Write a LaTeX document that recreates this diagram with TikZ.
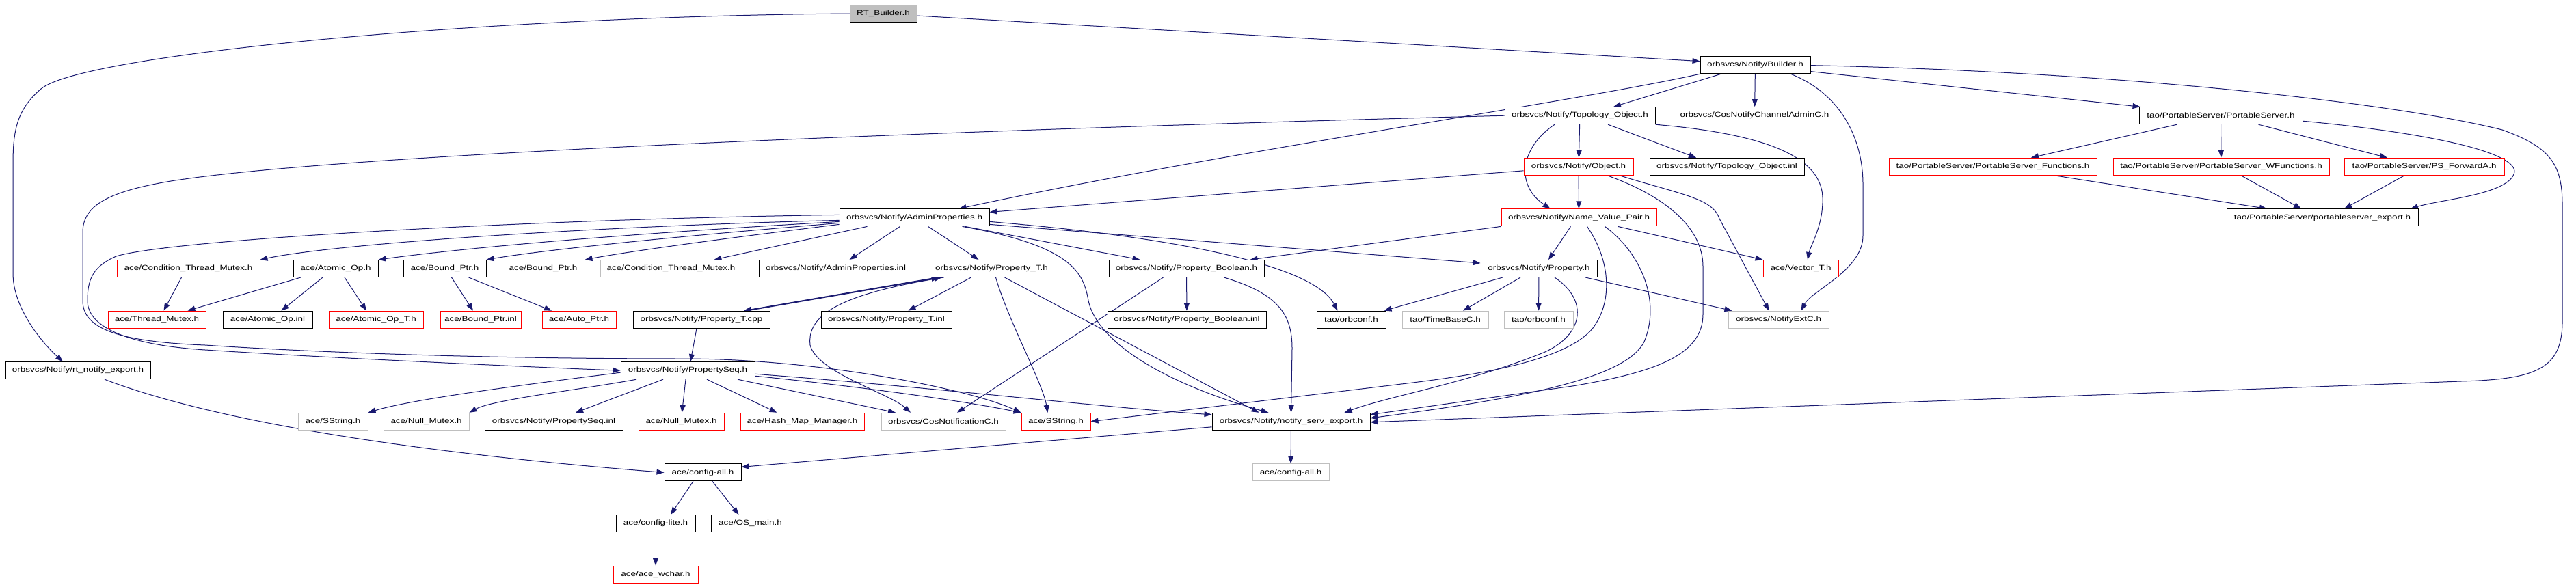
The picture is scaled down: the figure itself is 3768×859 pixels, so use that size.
\documentclass[tikz,border=0pt]{standalone}
\usepackage{fontspec}
\newfontfamily\nf[FakeStretch=1.27]{Liberation Sans}
\usetikzlibrary{arrows.meta,backgrounds}
\definecolor{edgec}{HTML}{191970}
\definecolor{grayb}{HTML}{BFBFBF}
\definecolor{redb}{HTML}{FF0000}
\tikzset{
  nb/.style={draw=black, fill=white, line width=1pt, minimum height=25pt, inner sep=0pt, text=black, font={\nf\fontsize{10.6}{12}\selectfont}},
  nr/.style={nb, draw=redb},
  ng/.style={nb, draw=grayb},
  nroot/.style={nb, fill=grayb},
  edge/.style={draw=edgec, line width=1pt, -{Triangle[length=11pt,width=8pt]}}
}
\begin{document}
\begin{tikzpicture}[x=1pt,y=-1pt]
\useasboundingbox (0,0) rectangle (3768,859);
% row 0
\node[nroot, minimum width=98pt] (rt) at (1292,20) {RT\_Builder.h};
% row 1
\node[nb, minimum width=161pt] (bld) at (2567.5,94.6) {orbsvcs/Notify/Builder.h};
% row 2
\node[nb, minimum width=220pt] (topo) at (2311,169.2) {orbsvcs/Notify/Topology\_Object.h};
\node[ng, minimum width=237pt] (cnca) at (2566.5,169.2) {orbsvcs/CosNotifyChannelAdminC.h};
\node[nb, minimum width=239pt] (ps) at (3248.5,169.2) {tao/PortableServer/PortableServer.h};
% row 3
\node[nr, minimum width=160pt] (obj) at (2309,243.8) {orbsvcs/Notify/Object.h};
\node[nb, minimum width=226pt] (toinl) at (2526,243.8) {orbsvcs/Notify/Topology\_Object.inl};
\node[nr, minimum width=304pt] (psf) at (2915,243.8) {tao/PortableServer/PortableServer\_Functions.h};
\node[nr, minimum width=316pt] (psw) at (3249,243.8) {tao/PortableServer/PortableServer\_WFunctions.h};
\node[nr, minimum width=234pt] (psfa) at (3546,243.8) {tao/PortableServer/PS\_ForwardA.h};
% row 4
\node[nb, minimum width=219pt] (adm) at (1337.5,318.4) {orbsvcs/Notify/AdminProperties.h};
\node[nr, minimum width=227pt] (nvp) at (2309.5,318.4) {orbsvcs/Notify/Name\_Value\_Pair.h};
\node[nb, minimum width=280pt] (pse) at (3397,318.4) {tao/PortableServer/portableserver\_export.h};
% row 5
\node[nr, minimum width=209pt] (ctmr) at (275.5,393) {ace/Condition\_Thread\_Mutex.h};
\node[nb, minimum width=124pt] (aop) at (491,393) {ace/Atomic\_Op.h};
\node[nb, minimum width=121pt] (bp) at (650.5,393) {ace/Bound\_Ptr.h};
\node[ng, minimum width=121pt] (bpg) at (794.5,393) {ace/Bound\_Ptr.h};
\node[ng, minimum width=207pt] (ctmg) at (981.5,393) {ace/Condition\_Thread\_Mutex.h};
\node[nb, minimum width=225pt] (adminl) at (1222.5,393) {orbsvcs/Notify/AdminProperties.inl};
\node[nb, minimum width=187pt] (pth) at (1450.5,393) {orbsvcs/Notify/Property\_T.h};
\node[nb, minimum width=227pt] (pb) at (1735.5,393) {orbsvcs/Notify/Property\_Boolean.h};
\node[nb, minimum width=170pt] (prop) at (2251,393) {orbsvcs/Notify/Property.h};
\node[nr, minimum width=110pt] (vec) at (2634,393) {ace/Vector\_T.h};
% row 6
\node[nr, minimum width=143pt] (tm) at (229.5,467.6) {ace/Thread\_Mutex.h};
\node[nb, minimum width=131pt] (aopinl) at (391.5,467.6) {ace/Atomic\_Op.inl};
\node[nr, minimum width=138pt] (aopt) at (550,467.6) {ace/Atomic\_Op\_T.h};
\node[nr, minimum width=118pt] (bpi) at (703,467.6) {ace/Bound\_Ptr.inl};
\node[nr, minimum width=108pt] (ap) at (847,467.6) {ace/Auto\_Ptr.h};
\node[nb, minimum width=200pt] (ptcpp) at (1026,467.6) {orbsvcs/Notify/Property\_T.cpp};
\node[nb, minimum width=191pt] (ptinl) at (1296.5,467.6) {orbsvcs/Notify/Property\_T.inl};
\node[nb, minimum width=232pt] (pbinl) at (1736,467.6) {orbsvcs/Notify/Property\_Boolean.inl};
\node[nb, minimum width=101pt] (orbb) at (1976.5,467.6) {tao/orbconf.h};
\node[ng, minimum width=126pt] (tbc) at (2114,467.6) {tao/TimeBaseC.h};
\node[ng, minimum width=101pt] (orbg) at (2250.5,467.6) {tao/orbconf.h};
\node[ng, minimum width=147pt] (nextc) at (2601.5,467.6) {orbsvcs/NotifyExtC.h};
% row 7
\node[nb, minimum width=212pt] (rtn) at (114,542.2) {orbsvcs/Notify/rt\_notify\_export.h};
\node[nb, minimum width=196pt] (pseq) at (1006,542.2) {orbsvcs/Notify/PropertySeq.h};
% row 8
\node[ng, minimum width=102pt] (ssg) at (487,616.8) {ace/SString.h};
\node[ng, minimum width=125pt] (nmg) at (623.5,616.8) {ace/Null\_Mutex.h};
\node[nb, minimum width=202pt] (psinl) at (810,616.8) {orbsvcs/Notify/PropertySeq.inl};
\node[nr, minimum width=125pt] (nmr) at (996.5,616.8) {ace/Null\_Mutex.h};
\node[nr, minimum width=181pt] (hm) at (1173.5,616.8) {ace/Hash\_Map\_Manager.h};
\node[ng, minimum width=182pt] (cosn) at (1380,616.8) {orbsvcs/CosNotificationC.h};
\node[nr, minimum width=101pt] (ssr) at (1544.5,616.8) {ace/SString.h};
\node[nb, minimum width=231pt] (nse) at (1888.5,616.8) {orbsvcs/Notify/notify\_serv\_export.h};
% row 9
\node[nb, minimum width=112pt] (cfa) at (1028,691.4) {ace/config-all.h};
\node[ng, minimum width=112pt] (cfag) at (1888,691.4) {ace/config-all.h};
% row 10
\node[nb, minimum width=116pt] (cfl) at (959,766) {ace/config-lite.h};
\node[nb, minimum width=115pt] (osm) at (1097.5,766) {ace/OS\_main.h};
% row 11
\node[nr, minimum width=124pt] (wch) at (959,840.6) {ace/ace\_wchar.h};

\begin{pgfonlayer}{background}
\fill[white] (0,0) rectangle (3768,859);
% RT_Builder
\draw[edge] ([yshift=-3pt]rt.east) -- ([yshift=5pt]bld.west);
\draw[edge] (rt.west) .. controls (700,24) and (120,80) .. (60,130) .. controls (25,160) and (19,190) .. (19,240) -- (19,400) .. controls (19,450) and (60,500) .. ([xshift=-22pt]rtn.north);
% Builder
\draw[edge] ([xshift=3pt]bld.south west) .. controls (2300,150) and (1800,220) .. ([xshift=65pt]adm.north);
\draw[edge] ([xshift=-48pt]bld.south) -- ([xshift=49pt]topo.north);
\draw[edge] (bld) -- (cnca);
\draw[edge] ([xshift=50pt]bld.south) .. controls (2690,135) and (2725,200) .. (2725,270) -- (2725,345) .. controls (2725,395) and (2650,425) .. ([xshift=33pt]nextc.north);
\draw[edge] ([yshift=-10pt]bld.east) -- ([xshift=2pt]ps.north west);
\draw[edge] ([yshift=-1pt]bld.east) .. controls (3100,105) and (3500,150) .. (3660,190) .. controls (3730,215) and (3748,240) .. (3748,300) -- (3748,470) .. controls (3748,540) and (3710,555) .. (3600,558) -- ([yshift=-1pt]nse.east);
% Topology_Object
\draw[edge] (topo) -- (obj);
\draw[edge] ([xshift=41pt]topo.south) -- ([xshift=-45pt]toinl.north);
\draw[edge] ([xshift=-37pt]topo.south) .. controls (2225,215) and (2215,270) .. ([xshift=-42pt]nvp.north);
\draw[edge] (topo.south east) .. controls (2570,195) and (2665,225) .. (2666,290) .. controls (2667,330) and (2648,360) .. ([xshift=10pt]vec.north);
\draw[edge] (topo.west) .. controls (1400,190) and (500,225) .. (250,265) .. controls (160,280) and (121,300) .. (121,340) -- (121,440) .. controls (121,480) and (170,500) .. (300,505) .. controls (450,515) and (700,525) .. (1000,525) .. controls (1200,525) and (1420,570) .. (ssr.north west);
% Object
\draw[edge] ([yshift=-6pt]obj.west) -- ([yshift=8pt]adm.east);
\draw[edge] (obj) -- (nvp);
\draw[edge] ([xshift=60pt]obj.south) .. controls (2460,285) and (2505,290) .. (2515,320) -- ([xshift=-14pt]nextc.north);
\draw[edge] ([xshift=42pt]obj.south) .. controls (2430,285) and (2491,330) .. (2491,390) -- (2491,460) .. controls (2491,520) and (2420,545) .. (2300,565) -- ([yshift=10pt]nse.east);
% Name_Value_Pair
\draw[edge] ([xshift=-12pt]nvp.south) -- ([xshift=14pt]prop.north);
\draw[edge] ([xshift=57pt]nvp.south) -- (vec.north west);
\draw[edge] (nvp.south west) -- ([xshift=93pt]pb.north);
\draw[edge] ([xshift=12pt]nvp.south) .. controls (2355,380) and (2360,440) .. (2330,480) .. controls (2290,530) and (2150,550) .. (2050,562) -- (ssr.east);
\draw[edge] ([xshift=38pt]nvp.south) .. controls (2400,370) and (2430,440) .. (2405,500) .. controls (2380,550) and (2250,580) .. ([yshift=5pt]nse.east);
% Property
\draw[edge] ([xshift=-53pt]prop.south) -- ([xshift=48pt]orbb.north);
\draw[edge] ([xshift=-27pt]prop.south) -- ([xshift=26pt]tbc.north);
\draw[edge] (prop) -- (orbg);
\draw[edge] ([xshift=68pt]prop.south) -- ([xshift=-68pt]nextc.north);
\draw[edge] ([xshift=23pt]prop.south) .. controls (2325,440) and (2315,490) .. (2260,515) .. controls (2150,560) and (2030,580) .. ([xshift=78pt]nse.north);
% Property_T
\draw[edge] ([xshift=64pt]ptcpp.north) -- ([xshift=-77pt]pth.south);
\draw[edge] ([xshift=68pt]ptcpp.north) -- ([xshift=-73pt]pth.south);
\draw[edge] ([xshift=-80pt]pth.south) -- ([xshift=62pt]ptcpp.north);
\draw[edge] ([xshift=-30pt]pth.south) -- ([xshift=32pt]ptinl.north);
\draw[edge] ([xshift=6pt]pth.south) .. controls (1475,470) and (1525,560) .. ([xshift=-12pt]ssr.north);
\draw[edge] ([xshift=19pt]pth.south) -- ([xshift=-47pt]nse.north);
\draw[edge] ([xshift=-70pt]pth.south) .. controls (1230,430) and (1180,460) .. (1185,505) .. controls (1195,545) and (1300,575) .. ([xshift=-48pt]cosn.north);
% Property_Boolean
\draw[edge] (pb) -- (pbinl);
\draw[edge] ([xshift=-34pt]pb.south) -- ([xshift=20pt]cosn.north);
\draw[edge] ([xshift=55pt]pb.south) .. controls (1870,430) and (1890,460) .. (1890,510) -- (nse.north);
% AdminProperties
\draw[edge] ([yshift=-4pt]adm.west) .. controls (900,330) and (500,355) .. (ctmr.north east);
\draw[edge] ([yshift=-6pt]adm.west) .. controls (950,340) and (700,360) .. (aop.north east);
\draw[edge] ([yshift=-8pt]adm.west) .. controls (1000,345) and (800,365) .. (bp.north east);
\draw[edge] ([yshift=-10pt]adm.west) .. controls (1050,350) and (920,368) .. (bpg.north east);
\draw[edge] ([xshift=-69pt]adm.south) -- ([xshift=63pt]ctmg.north);
\draw[edge] ([xshift=-21pt]adm.south) -- ([xshift=20pt]adminl.north);
\draw[edge] ([xshift=20pt]adm.south) -- ([xshift=-19pt]pth.north);
\draw[edge] ([xshift=74pt]adm.south) -- ([xshift=-68pt]pb.north);
\draw[edge] ([yshift=-6pt]adm.east) .. controls (1700,345) and (1920,385) .. ([xshift=-20pt]orbb.north);
\draw[edge] ([yshift=-10pt]adm.east) -- ([yshift=8pt]prop.west);
\draw[edge] ([xshift=70pt]adm.south) .. controls (1570,360) and (1585,400) .. (1592,440) .. controls (1605,500) and (1700,560) .. ([xshift=-33pt]nse.north);
\draw[edge] ([yshift=4pt]adm.west) .. controls (800,320) and (250,350) .. (170,375) .. controls (135,390) and (128,410) .. (128,440) .. controls (128,480) and (190,505) .. (300,512) .. controls (500,525) and (800,538) .. (pseq.west);
% ace
\draw[edge] ([xshift=-10pt]ctmr.south) -- ([xshift=10pt]tm.north);
\draw[edge] ([xshift=-51pt]aop.south) -- ([xshift=45pt]tm.north);
\draw[edge] ([xshift=-19pt]aop.south) -- ([xshift=20pt]aopinl.north);
\draw[edge] ([xshift=13pt]aop.south) -- ([xshift=-14pt]aopt.north);
\draw[edge] ([xshift=10pt]bp.south) -- ([xshift=-11pt]bpi.north);
\draw[edge] ([xshift=35pt]bp.south) -- ([xshift=-40pt]ap.north);
% PropertySeq
\draw[edge] ([xshift=-7pt]ptcpp.south) -- ([xshift=4pt]pseq.north);
\draw[edge] ([yshift=-3pt]pseq.west) .. controls (750,565) and (600,585) .. (ssg.north east);
\draw[edge] ([xshift=-75pt]pseq.south) .. controls (850,570) and (720,585) .. (nmg.north east);
\draw[edge] ([xshift=-36pt]pseq.south) -- ([xshift=32pt]psinl.north);
\draw[edge] ([xshift=-3pt]pseq.south) -- ([xshift=1pt]nmr.north);
\draw[edge] ([xshift=28pt]pseq.south) -- ([xshift=-37pt]hm.north);
\draw[edge] ([xshift=73pt]pseq.south) -- ([xshift=-70pt]cosn.north);
\draw[edge] ([yshift=-8pt]pseq.east) .. controls (1250,565) and (1400,585) .. (ssr.north west);
\draw[edge] ([yshift=-5pt]pseq.east) .. controls (1400,570) and (1600,595) .. ([yshift=10pt]nse.west);
% exports / config
\draw[edge] ([xshift=39pt]rtn.south) .. controls (350,630) and (700,670) .. (cfa.west);
\draw[edge] ([yshift=-8pt]nse.west) -- ([yshift=8pt]cfa.east);
\draw[edge] (nse) -- (cfag);
\draw[edge] ([xshift=-14pt]cfa.south) -- ([xshift=22pt]cfl.north);
\draw[edge] ([xshift=14pt]cfa.south) -- ([xshift=-17pt]osm.north);
\draw[edge] (cfl) -- (wch);
% PortableServer
\draw[edge] ([xshift=-64pt]ps.south) -- ([xshift=56pt]psf.north);
\draw[edge] (ps) -- (psw);
\draw[edge] ([xshift=55pt]ps.south) -- ([xshift=-54pt]psfa.north);
\draw[edge] ([yshift=-8pt]ps.east) .. controls (3560,195) and (3690,225) .. (3677,255) .. controls (3665,285) and (3570,292) .. ([xshift=129pt]pse.north);
\draw[edge] ([xshift=90pt]psf.south) -- ([xshift=-81pt]pse.north);
\draw[edge] ([xshift=29pt]psw.south) -- ([xshift=-31pt]pse.north);
\draw[edge] ([xshift=-29pt]psfa.south) -- ([xshift=32pt]pse.north);
\end{pgfonlayer}
\end{tikzpicture}
\end{document}
